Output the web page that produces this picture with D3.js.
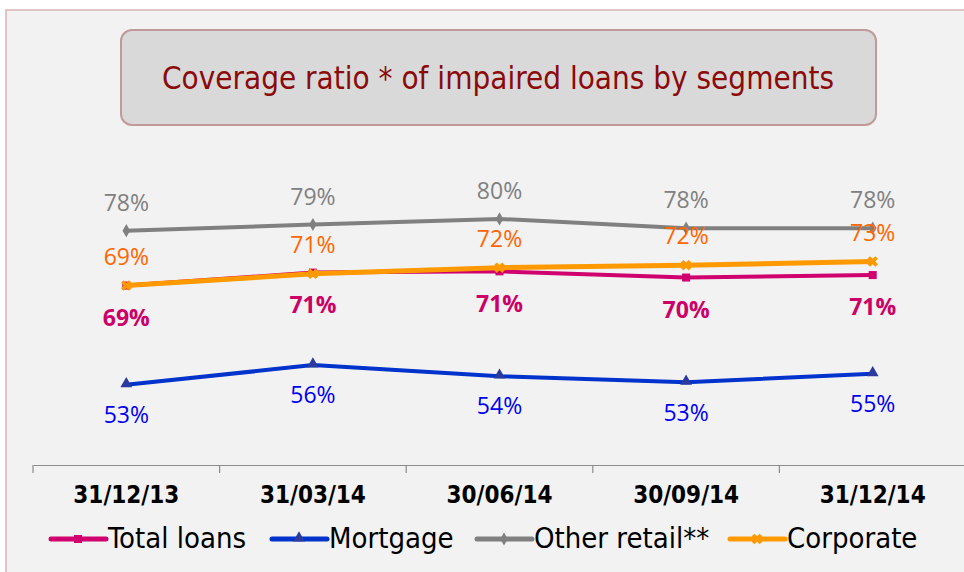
<!DOCTYPE html>
<html>
<head>
<meta charset="utf-8">
<script src="https://cdn.jsdelivr.net/npm/d3@7"></script>
<style>
  html, body { margin: 0; padding: 0; background: #fff; }
  svg { display: block; }
</style>
</head>
<body>
<svg id="chart" width="964" height="572"></svg>
<script>
const categories = ['31/12/13', '31/03/14', '30/06/14', '30/09/14', '31/12/14'];

const totalLoans = [69.1, 71.2, 71.4, 70.4, 70.8];
const mortgage = [53.0, 56.2, 54.4, 53.4, 54.8];
const otherRetail = [78.0, 79.0, 79.9, 78.4, 78.4];
const corporate = [69.1, 71.0, 72.0, 72.4, 73.0];

const seriesNames = ['Total loans', 'Mortgage', 'Other retail**', 'Corporate'];

const W = 964, H = 572;
const CONDENSED = '"DejaVu Sans Condensed", "DejaVu Sans", sans-serif';
const LABEL_FONT = '"Open Sans", "Noto Sans", sans-serif';

const series = [
    { name: seriesNames[0], values: totalLoans, color: '#d0006f', label: '#cc0066', marker: 'square', width: 4, bold: true, dy: 34 },
    { name: seriesNames[1], values: mortgage, color: '#0033cc', label: '#0000ee', marker: 'triangle', width: 4, bold: false, dy: 32 },
    { name: seriesNames[2], values: otherRetail, color: '#808080', label: '#808080', marker: 'diamond', width: 4, bold: false, dy: -26 },
    { name: seriesNames[3], values: corporate, color: '#ff9900', label: '#ff6600', marker: 'x', width: 5, bold: false, dy: -27 }
];

const svg = d3.select('#chart');

// panel background + border
svg.append('rect')
    .attr('x', 6).attr('y', 10)
    .attr('width', W).attr('height', H)
    .attr('fill', '#f2f2f2')
    .attr('stroke', '#d6b4b4')
    .attr('stroke-width', 1.5);

const x = d3.scaleBand()
    .domain(categories)
    .range([33, 966])
    .padding(0);

const y = d3.scaleLinear()
    .domain([40, 100])
    .range([465, 95]);

// title box
svg.append('rect')
    .attr('x', 121).attr('y', 30)
    .attr('width', 755).attr('height', 95)
    .attr('rx', 11)
    .attr('fill', '#d9d9d9')
    .attr('stroke', '#c09a9a')
    .attr('stroke-width', 2);

svg.append('text')
    .attr('x', 498).attr('y', 89)
    .attr('text-anchor', 'middle')
    .attr('font-family', CONDENSED)
    .attr('font-size', 32)
    .attr('textLength', 672)
    .attr('lengthAdjust', 'spacingAndGlyphs')
    .attr('fill', '#8b0a0a')
    .text('Coverage ratio * of impaired loans by segments');

// x axis
const xAxis = d3.axisBottom(x)
    .tickSize(0)
    .tickPadding(21);

const gx = svg.append('g')
    .attr('transform', `translate(0,${y(40)})`)
    .call(xAxis);

gx.select('.domain').attr('stroke', '#8c8c8c').attr('stroke-width', 1.2);
gx.selectAll('.tick text')
    .attr('font-family', CONDENSED)
    .attr('font-size', 24)
    .attr('font-weight', 'bold')
    .attr('fill', '#000');

// boundary tick marks
const bounds = categories.map(c => x(c));
gx.selectAll('.bound')
    .data(bounds)
    .enter()
    .append('line')
    .classed('bound', true)
    .attr('x1', d => d).attr('x2', d => d)
    .attr('y1', 0).attr('y2', 8)
    .attr('stroke', '#8c8c8c')
    .attr('stroke-width', 1.2);

const cx = (i) => x(categories[i]) + x.bandwidth() / 2;

const line = d3.line()
    .x((d, i) => cx(i))
    .y(d => y(d));

const drawMarker = (g, type, color, px, py) => {
    if (type === 'square') {
        g.append('rect')
            .attr('x', px - 4).attr('y', py - 4)
            .attr('width', 8).attr('height', 8)
            .attr('fill', color);
    } else if (type === 'triangle') {
        g.append('path')
            .attr('d', d3.symbol().type(d3.symbolTriangle).size(60)())
            .attr('transform', `translate(${px},${py - 1})`)
            .attr('fill', '#2b3a9e');
    } else if (type === 'diamond') {
        g.append('path')
            .attr('d', d3.symbol().type(d3.symbolDiamond).size(50)())
            .attr('transform', `translate(${px},${py})`)
            .attr('fill', color);
    } else {
        g.append('path')
            .attr('d', d3.symbol().type(d3.symbolCross).size(70)())
            .attr('transform', `translate(${px},${py}) rotate(45)`)
            .attr('fill', color);
    }
};

// draw order: mortgage, other retail, total, corporate on top
const order = [1, 2, 0, 3];
order.forEach(k => {
    const s = series[k];
    const g = svg.append('g');
    g.append('path')
        .datum(s.values)
        .attr('d', line)
        .attr('fill', 'none')
        .attr('stroke', s.color)
        .attr('stroke-width', s.width)
        .attr('stroke-linejoin', 'round');
    s.values.forEach((v, i) => drawMarker(g, s.marker, s.color, cx(i), y(v)));
});

// data labels
series.forEach(s => {
    svg.append('g')
        .selectAll('text')
        .data(s.values)
        .enter()
        .append('text')
        .attr('x', (d, i) => cx(i))
        .attr('y', d => y(d) + s.dy)
        .attr('text-anchor', 'middle')
        .attr('dominant-baseline', 'middle')
        .attr('font-family', LABEL_FONT)
        .attr('font-size', 23)
        .attr('font-weight', s.bold ? 'bold' : 'normal')
        .attr('fill', s.label)
        .text(d => Math.round(d) + '%');
});

// legend
const legendX = [51, 272, 477, 730];
const legend = svg.append('g');
series.forEach((s, k) => {
    const lx = legendX[k];
    const ly = 539;
    legend.append('line')
        .attr('x1', lx).attr('x2', lx + 55)
        .attr('y1', ly).attr('y2', ly)
        .attr('stroke', s.color)
        .attr('stroke-width', 5)
        .attr('stroke-linecap', 'round');
    drawMarker(legend, s.marker, s.color, lx + 27, ly);
    legend.append('text')
        .attr('x', lx + 57)
        .attr('y', ly + 1)
        .attr('dominant-baseline', 'middle')
        .attr('font-family', CONDENSED)
        .attr('font-size', 29)
        .attr('fill', '#000')
        .text(s.name);
});
</script>
</body>
</html>
